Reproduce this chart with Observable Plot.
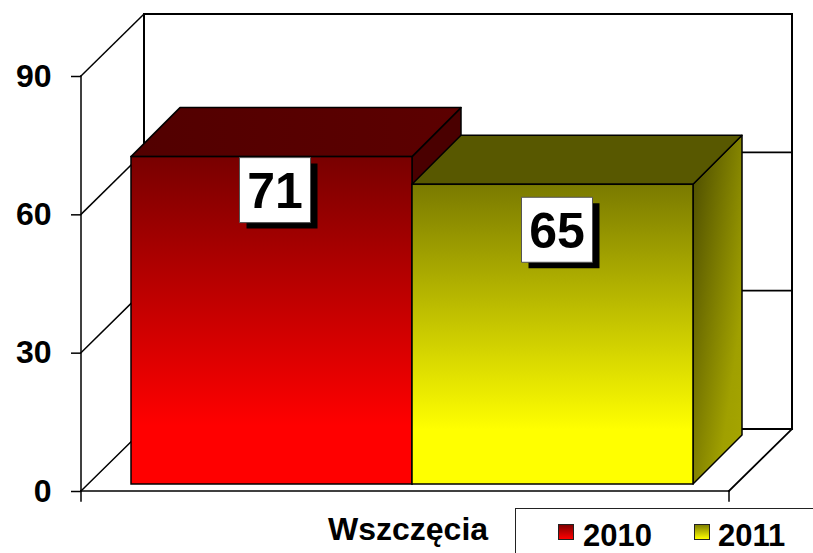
<!DOCTYPE html>
<html>
<head>
<meta charset="utf-8">
<script src="https://cdn.jsdelivr.net/npm/d3@7"></script>
<script src="https://cdn.jsdelivr.net/npm/@observablehq/plot@0.6"></script>
<style>
  html, body { margin: 0; padding: 0; background: #fff; overflow: hidden; }
  #wrap { position: relative; width: 813px; height: 553px; font-family: "Liberation Sans", Arial, sans-serif; }
  #chart svg { display: block; }
  #bottom { position: absolute; left: 0; top: 506px; width: 813px; height: 47px; overflow: hidden; }
  .bold { font-weight: bold; position: absolute; white-space: nowrap; line-height: 1; }
  #xlabel { left: 328px; top: 7px; font-size: 32px; }
  #legend { position: absolute; left: 515px; top: 2px; width: 340px; height: 80px; border: 1.5px solid #222; box-sizing: border-box; }
  .sw { position: absolute; width: 14px; height: 14px; border: 1.5px solid #222; }
  .lt { font-size: 31px; top: 11px; }
</style>
</head>
<body>
<div id="wrap">
  <div id="chart"></div>
  <div id="bottom">
    <div id="xlabel" class="bold"></div>
    <div id="legend"></div>
  </div>
</div>
<script>
// ---- data ----
const category = "Wszczęcia";
const series = ["2010", "2011"];
const values = [71, 65];
const yTicks = [0, 30, 60, 90];

const data = series.map((s, i) => ({series: s, value: values[i]}));

// ---- styles ----
const FONT = '"Liberation Sans", Arial, sans-serif';
const NS = "http://www.w3.org/2000/svg";
const WALL = [63, -62];   // back wall depth offset (px)
const BAR0 = [7, -7];     // bar front plane offset (px)
const DEPTH = [49, -49];  // bar depth (px)
const style = {
  "2010": {front: "url(#front2010)", top: "url(#top2010)", side: "#4a0000", lab: [10, 26],
           swatch: "linear-gradient(#800000, #ff0000)"},
  "2011": {front: "url(#front2011)", top: "#585800", side: "url(#side2011)", lab: [11, 38],
           swatch: "linear-gradient(#808000, #ffff00)"}
};

const defs = () => {
  const d = document.createElementNS(NS, "defs");
  d.innerHTML = `
    <linearGradient id="front2010" x1="0" y1="0" x2="0" y2="1">
      <stop offset="0" stop-color="#780000"/><stop offset="0.82" stop-color="#ff0000"/><stop offset="1" stop-color="#ff0000"/></linearGradient>
    <linearGradient id="top2010" x1="0" y1="0" x2="1" y2="0">
      <stop offset="0" stop-color="#520000"/><stop offset="1" stop-color="#5c0000"/></linearGradient>
    <linearGradient id="front2011" x1="0" y1="0" x2="0" y2="1">
      <stop offset="0" stop-color="#7a7a00"/><stop offset="0.82" stop-color="#ffff00"/><stop offset="1" stop-color="#ffff00"/></linearGradient>
    <linearGradient id="side2011" x1="0" y1="0" x2="1" y2="1">
      <stop offset="0" stop-color="#4a4a00"/><stop offset="0.75" stop-color="#a0a000"/><stop offset="1" stop-color="#a6a600"/></linearGradient>`;
  return d;
};

function el(tag, attrs) {
  const e = document.createElementNS(NS, tag);
  for (const k in attrs) e.setAttribute(k, attrs[k]);
  return e;
}

// 3D frame: back wall, side wall, floor, axis line and category ticks
function frame3d(index, scales, vals, dims) {
  const y = scales.y;
  const L = dims.marginLeft, R = dims.width - dims.marginRight;
  const [wx, wy] = WALL;
  const g = el("g", {stroke: "black", fill: "none", "stroke-linecap": "square"});
  const ln = (x1, y1, x2, y2, w) => g.appendChild(el("line", {x1, y1, x2, y2, "stroke-width": w}));
  const top = y(yTicks[yTicks.length - 1]), bot = y(0);
  g.appendChild(el("rect", {x: L + wx, y: top + wy, width: R - L, height: bot - top, fill: "white", stroke: "none"}));
  for (const t of yTicks) {
    ln(L + wx, y(t) + wy, R + wx, y(t) + wy, 1.8);
    ln(L, y(t), L + wx, y(t) + wy, 1.5);
  }
  ln(L + wx, top + wy, L + wx, bot + wy, 2);
  ln(R + wx, top + wy, R + wx, bot + wy, 2);
  ln(L, bot, R, bot, 1.5);
  ln(R, bot, R + wx, bot + wy, 1.8);
  ln(L, top, L, bot, 1.5);
  ln(L, bot, L, bot + 10, 1.5);
  ln(R, bot, R, bot + 10, 1.5);
  return g;
}

// top and side faces of one bar, positioned with the plot's scales
const faces = (s) => (index, scales, vals, dims) => {
  const {x, y} = scales;
  const bw = typeof x.bandwidth === "function" ? x.bandwidth() : (x(series[1]) - x(series[0]));
  const g = el("g", {stroke: "black", "stroke-width": 1.5, "stroke-linejoin": "round"});
  for (const d of data.filter(d => d.series === s)) {
    const x0 = x(d.series) + BAR0[0], x1 = x0 + bw;
    const yt = y(d.value) + BAR0[1], yb = y(0) + BAR0[1];
    const [dx, dy] = DEPTH;
    g.appendChild(el("polygon", {fill: style[s].side,
      points: `${x1},${yt} ${x1 + dx},${yt + dy} ${x1 + dx},${yb + dy} ${x1},${yb}`}));
    g.appendChild(el("polygon", {fill: style[s].top,
      points: `${x0},${yt} ${x1},${yt} ${x1 + dx},${yt + dy} ${x0 + dx},${yt + dy}`}));
  }
  return g;
};

const boxSymbol = {draw(ctx) { ctx.rect(-35.5, -32.5, 71, 65); }};

const barMarks = series.flatMap(s => {
  const sub = data.filter(d => d.series === s);
  return [
    faces(s),
    Plot.barY(sub, {x: "series", y: "value", fill: style[s].front, stroke: "black", strokeWidth: 1.5,
                    dx: BAR0[0], dy: BAR0[1]})
  ];
});

const labelMarks = series.flatMap(s => {
  const sub = data.filter(d => d.series === s);
  const [lx, ly] = style[s].lab;
  return [
    Plot.dot(sub, {x: "series", y: "value", symbol: boxSymbol, fill: "black", stroke: "none", dx: lx + 7, dy: ly + 6}),
    Plot.dot(sub, {x: "series", y: "value", symbol: boxSymbol, fill: "white", stroke: "#555", strokeWidth: 1, dx: lx, dy: ly}),
    Plot.text(sub, {x: "series", y: "value", text: d => String(d.value), fontSize: 50, fontWeight: "bold",
                    fill: "black", dx: lx, dy: ly + 2})
  ];
});

const chart = Plot.plot({
  width: 813,
  height: 506,
  marginLeft: 81,
  marginRight: 84,
  marginTop: 76,
  marginBottom: 15,
  style: {fontFamily: FONT, background: "white", overflow: "visible", color: "black"},
  x: {domain: series, paddingInner: 0, paddingOuter: 0.149, axis: null},
  y: {domain: [0, 90], axis: null},
  marks: [
    defs,
    frame3d,
    Plot.axisY({ticks: yTicks, tickSize: 10, tickPadding: 20, fontSize: 32, fontWeight: "bold",
                strokeWidth: 1.5, label: null, tickFormat: d => String(d)}),
    ...barMarks,
    ...labelMarks
  ]
});
document.getElementById("chart").appendChild(chart);

// bottom row: category label and legend
document.getElementById("xlabel").textContent = category;
const legend = document.getElementById("legend");
const swX = [42, 178], txX = [67, 202];
series.forEach((s, i) => {
  const sw = document.createElement("div");
  sw.className = "sw";
  sw.style.left = swX[i] + "px";
  sw.style.top = "15px";
  sw.style.background = style[s].swatch;
  legend.appendChild(sw);
  const t = document.createElement("div");
  t.className = "bold lt";
  t.style.left = txX[i] + "px";
  t.textContent = s;
  legend.appendChild(t);
});
</script>
</body>
</html>
